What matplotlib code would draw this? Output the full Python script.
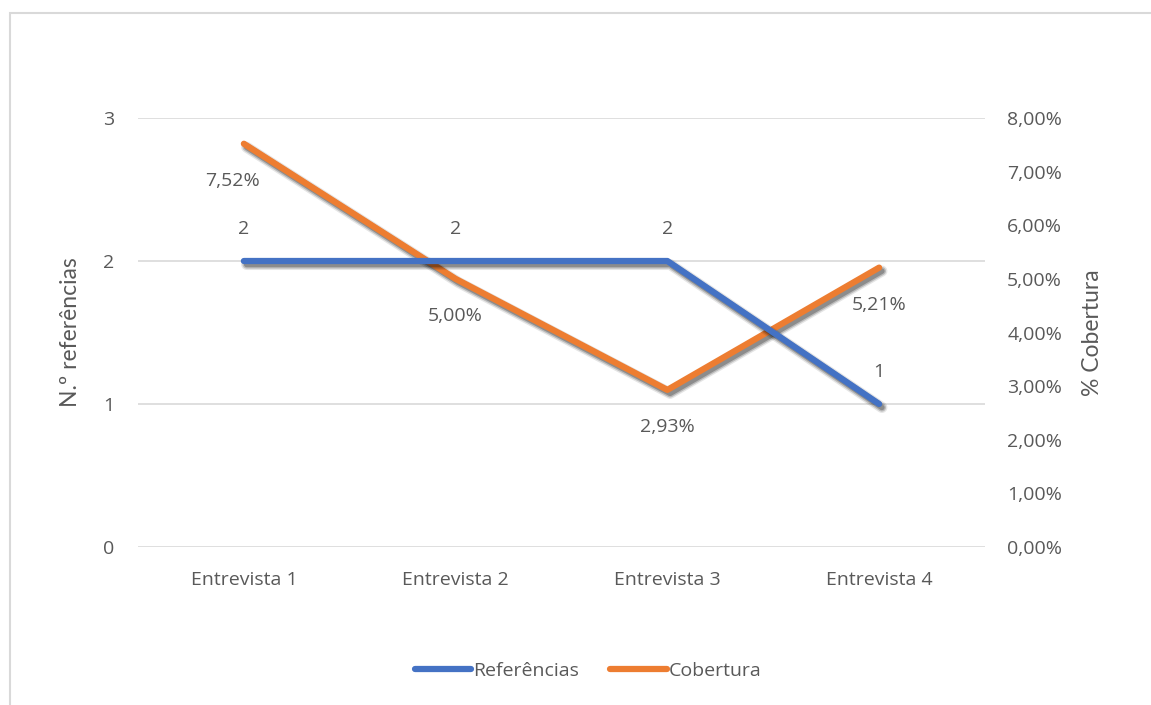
import matplotlib
matplotlib.use('Agg')
import matplotlib.pyplot as plt
import matplotlib.patheffects as pe
from matplotlib.patches import Rectangle
from matplotlib.lines import Line2D

# data
entrevistas = ['Entrevista 1', 'Entrevista 2', 'Entrevista 3', 'Entrevista 4']
referencias = [2, 2, 2, 1]
cobertura = [7.52, 5.00, 2.93, 5.21]   # percent

BLUE = '#4472c4'
ORANGE = '#ed7d31'
TXT = '#595959'
GRID = '#d9d9d9'
FS = 14
LW = 4.5

plt.rcParams['font.family'] = ['Open Sans', 'DejaVu Sans']

fig = plt.figure(figsize=(11.51, 7.05), dpi=100)
fig.patch.set_facecolor('white')

# chart area border (cropped at right / bottom in the reference)
fig.patches.append(Rectangle((10 / 1151, -0.05), 1.2, 1 - 13 / 705 + 0.05,
                             transform=fig.transFigure, fill=False,
                             edgecolor=GRID, linewidth=1.5, zorder=0))

ax = fig.add_axes([138 / 1151, 1 - 547 / 705, (985 - 138) / 1151, (547 - 118) / 705])
ax2 = ax.twinx()

# soft drop shadow, layered
shadow = [pe.SimpleLineShadow(offset=(2, -2.5), shadow_color='black', alpha=0.10,
                              rho=0.3, linewidth=8),
          pe.SimpleLineShadow(offset=(2, -2.5), shadow_color='black', alpha=0.18,
                              rho=0.3, linewidth=6),
          pe.SimpleLineShadow(offset=(2, -2.5), shadow_color='black', alpha=0.25,
                              rho=0.3, linewidth=4),
          pe.Normal()]

x = list(range(len(entrevistas)))
ax.plot(x, referencias, color=BLUE, lw=LW, solid_capstyle='round',
        solid_joinstyle='round', path_effects=shadow, zorder=3)
ax2.plot(x, [c / 100 for c in cobertura], color=ORANGE, lw=LW, solid_capstyle='round',
         solid_joinstyle='round', path_effects=shadow, zorder=3)

ax.set_xlim(-0.5, 3.5)
ax.set_ylim(0, 3)
ax2.set_ylim(0, 0.08)
ax.set_yticks([0, 1, 2, 3])
ax2.set_yticks([i / 100 for i in range(9)])
ax2.set_yticklabels([f'{i},00%' for i in range(9)])
ax.set_xticks(x)
ax.set_xticklabels(entrevistas)

for a in (ax, ax2):
    for s in a.spines.values():
        s.set_visible(False)
    a.tick_params(length=0, labelsize=FS, labelcolor=TXT)
ax.tick_params(axis='y', pad=17)
ax2.tick_params(axis='y', pad=16)
ax.tick_params(axis='x', pad=17)
ax.grid(axis='y', color=GRID, lw=1.2)
ax.set_axisbelow(True)
ax.set_zorder(ax2.get_zorder() + 1)
ax.patch.set_visible(False)

ax.set_ylabel('N.º referências', color=TXT, fontsize=16.5, family=['Lato', 'DejaVu Sans'],
              labelpad=16)
ax2.set_ylabel('% Cobertura', color=TXT, fontsize=16.5, family=['Lato', 'DejaVu Sans'],
               labelpad=14)

# data labels
for xi, r in zip(x, referencias):
    ax.annotate(str(r), (xi, r), xytext=(0, 23), textcoords='offset points',
                ha='center', va='center', fontsize=FS, color=TXT)
for xi, c in zip(x, cobertura):
    dx = -8 if xi == 0 else 0
    ax2.annotate(f'{c:.2f}%'.replace('.', ','), (xi, c / 100), xytext=(dx, -27),
                 textcoords='offset points', ha='center', va='center',
                 fontsize=FS, color=TXT)

handles = [Line2D([], [], color=BLUE, lw=LW, solid_capstyle='round'),
           Line2D([], [], color=ORANGE, lw=LW, solid_capstyle='round')]
fig.legend(handles, ['Referências', 'Cobertura'], loc='center',
           bbox_to_anchor=(588 / 1151, 1 - 671 / 705), ncol=2, frameon=False,
           fontsize=FS, labelcolor=TXT, handlelength=2.9, handletextpad=0.1,
           columnspacing=1.6)

fig.savefig('out.png', dpi=100, facecolor='white')
